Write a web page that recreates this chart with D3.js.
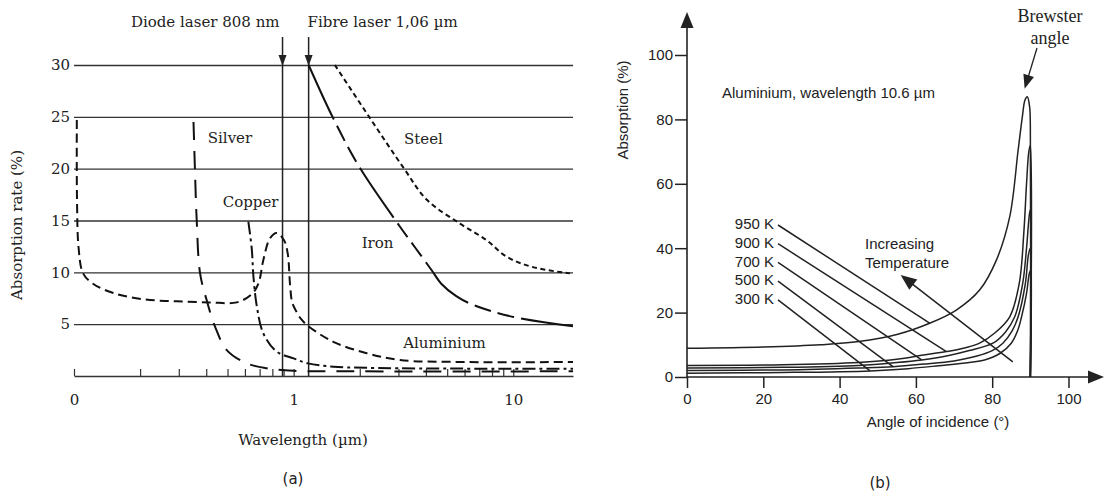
<!DOCTYPE html>
<html>
<head>
<meta charset="utf-8">
<script src="https://cdn.jsdelivr.net/npm/d3@7"></script>
<style>
body { margin: 0; background: #fff; }
svg { display: block; }
.serif { font-family: "DejaVu Serif", serif; font-size: 15px; fill: #222; }
.sans { font-family: "Liberation Sans", Arial, sans-serif; font-size: 15px; fill: #222; }
</style>
</head>
<body>
<div id="chart"></div>
<script>
// ---- panel (a) data: absorption rate (%) vs wavelength (um), log axis
var gridValues = [5, 10, 15, 20, 25, 30];
var wlTicks = [0.1, 0.2, 0.3, 0.4, 0.5, 0.6, 0.7, 0.8, 0.9, 1, 2, 3, 4, 5, 6, 7, 8, 9, 10];
var wlLabels = { 0.1: "0", 1: "1", 10: "10" };
var laserNames = ["Diode laser 808 nm", "Fibre laser 1,06 µm"];
var laserWl = [0.89, 1.17];   // where the lines sit in the picture

var metals = ["Aluminium", "Silver", "Copper", "Iron", "Steel"];
var aluminium = [[0.103, 24.7], [0.1032, 17], [0.105, 12.3], [0.11, 9.9], [0.122, 8.9], [0.151, 8.0],
    [0.207, 7.4], [0.294, 7.2], [0.417, 7.1], [0.551, 7.1], [0.645, 7.9], [0.691, 8.9], [0.728, 11.2],
    [0.781, 13.3], [0.838, 13.8], [0.904, 13.1], [0.94, 11.8], [0.963, 8.8], [0.985, 7.1], [1.03, 6.2],
    [1.08, 5.5], [1.16, 4.85], [1.515, 3.3], [2.15, 2.2], [3.05, 1.54], [6.13, 1.35], [18.7, 1.35]];
var silver = [[0.35, 24.5], [0.355, 20.2], [0.362, 15], [0.375, 9.9], [0.402, 7.3], [0.439, 4.75],
    [0.496, 2.5], [0.612, 1.22], [0.754, 0.74], [1.0, 0.5], [2, 0.45], [18.7, 0.45]];
var copper = [[0.622, 14.9], [0.645, 12.2], [0.656, 9.6], [0.68, 6.7], [0.728, 4.1], [0.838, 2.35],
    [1.0, 1.7], [1.16, 1.22], [1.52, 0.9], [3, 0.75], [18.7, 0.7]];
var iron = [[1.17, 30], [1.515, 24.85], [2.0, 20.1], [3.05, 14.4], [3.6, 12.3], [4.25, 10.2], [4.7, 8.9],
    [5.5, 7.7], [6.58, 6.85], [10, 5.7], [18.7, 4.8]];
var steel = [[1.54, 30], [2.23, 24.85], [3.16, 20.1], [4.04, 17.0], [5.72, 14.7], [7.56, 13.1],
    [9.33, 11.5], [12.3, 10.5], [18.1, 9.9]];

// ---- panel (b) data: aluminium, 10.6 um, absorption (%) vs angle of incidence
var angleTicks = [0, 20, 40, 60, 80, 100];
var absTicks = [0, 20, 40, 60, 80, 100];
var temps = ["950 K", "900 K", "700 K", "500 K", "300 K"];
var k950 = [[0, 8.9], [20, 9.3], [35, 10], [45, 11], [55, 13.2], [63.6, 16.7], [70.6, 20.8], [76.7, 27],
    [81.1, 36.3], [84.6, 49.8], [86.8, 70.5], [87.9, 80.8], [88.6, 86], [89.2, 87], [89.8, 84], [90, 78], [90, 0]];
var k900 = [[0, 3.6], [25, 3.8], [45, 4.5], [55, 5.5], [62, 6.8], [68, 7.9], [73, 9.1], [76.7, 10.5],
    [80.5, 13.5], [84.6, 18.7], [87.1, 29.1], [88.3, 45], [89, 60], [89.6, 70], [90, 72], [90, 0]];
var k700 = [[0, 2.8], [25, 3.0], [45, 3.6], [55, 4.5], [61.5, 5.3], [68, 6.5], [74, 8.2], [80.2, 10.5],
    [83.5, 14], [85.9, 18.7], [88, 29.1], [89, 40], [89.7, 50], [90, 52], [90, 0]];
var k500 = [[0, 2.0], [25, 2.2], [45, 2.8], [54, 3.2], [62, 4.0], [70, 5.0], [76, 6.5], [80, 8.2],
    [82.8, 10.5], [85.3, 14.5], [86.8, 18.7], [88.7, 29.1], [89.5, 38], [90, 40], [90, 0]];
var k300 = [[0, 1.2], [25, 1.4], [48, 1.9], [58, 2.6], [66, 3.5], [74, 4.5], [78, 5.3], [82, 7.3],
    [85, 10.5], [86.7, 14.5], [87.7, 18.7], [89, 26], [89.7, 32], [90, 33], [90, 0]];
var leaderAngles = [63.6, 68, 61.5, 54, 48];

var svg = d3.select("#chart").append("svg")
    .attr("width", 1105)
    .attr("height", 496);

function tri(g, x, y, ang, len, wid) {
    // filled arrow head, tip at x,y, pointing along ang (radians)
    var bx = x - len * Math.cos(ang), by = y - len * Math.sin(ang);
    var px = -Math.sin(ang) * wid / 2, py = Math.cos(ang) * wid / 2;
    g.append("path")
        .attr("d", `M${x},${y}L${bx + px},${by + py}L${bx - px},${by - py}Z`)
        .attr("fill", "#222");
}

// ================= panel (a)
var xL = d3.scaleLog().domain([0.1, 18.7]).range([74, 573]);
var yL = d3.scaleLinear().domain([0, 30]).range([376, 65]);
var ga = svg.append("g");

var gy = ga.append("g")
    .attr("transform", "translate(74,0)")
    .call(d3.axisLeft(yL).tickValues(gridValues).tickSize(-(573 - 74)).tickPadding(4));
gy.select(".domain").remove();
gy.selectAll("line").attr("stroke", "#333").attr("stroke-width", 1.4);
gy.selectAll("text").attr("class", "serif").attr("font-size", null).attr("font-family", null);

var gx = ga.append("g")
    .attr("transform", "translate(0,376)")
    .call(d3.axisBottom(xL).tickValues(wlTicks).tickSize(-7).tickSizeOuter(0).tickPadding(18)
        .tickFormat(d => wlLabels[d] || ""));
gx.select(".domain").attr("stroke", "#333").attr("stroke-width", 1.6);
gx.selectAll("line").attr("stroke", "#333").attr("stroke-width", 1.2);
gx.selectAll("text").attr("class", "serif").attr("font-size", null).attr("font-family", null);

// laser lines with arrows
laserWl.forEach(function(w, i) {
    ga.append("line")
        .attr("x1", xL(w)).attr("x2", xL(w))
        .attr("y1", 37).attr("y2", yL(0))
        .attr("stroke", "#222").attr("stroke-width", 1.5);
    tri(ga, xL(w), yL(30) + 1, Math.PI / 2, 11, 8);
    ga.append("text")
        .attr("class", "serif")
        .attr("x", i == 0 ? xL(w) - 3 : xL(w) - 1)
        .attr("y", 27)
        .attr("text-anchor", i == 0 ? "end" : "start")
        .text(laserNames[i]);
});

var lineL = d3.line()
    .x(d => xL(d[0]))
    .y(d => yL(d[1]))
    .curve(d3.curveCatmullRom.alpha(0.5));

var metalData = [aluminium, silver, copper, iron, steel];
var metalDash = ["9,5", "18,11", "13,4,3,4", "60,7,17,7,17,7", "5,3.5"];
metalData.forEach(function(s, i) {
    ga.append("path")
        .datum(s)
        .attr("d", lineL)
        .attr("fill", "none")
        .attr("stroke", "#111")
        .attr("stroke-width", 2)
        .attr("stroke-dasharray", metalDash[i]);
});

// metal names, anchored in data units
var metalLabelAt = [[4.86, 3.2], [0.513, 23.0], [0.637, 16.8], [2.41, 12.85], [3.9, 22.9]];
metals.forEach(function(m, i) {
    ga.append("text")
        .attr("class", "serif")
        .attr("x", xL(metalLabelAt[i][0]))
        .attr("y", yL(metalLabelAt[i][1]))
        .attr("dy", "0.35em")
        .attr("text-anchor", "middle")
        .text(m);
});

ga.append("text")
    .attr("class", "serif")
    .attr("transform", "translate(22,225) rotate(-90)")
    .attr("text-anchor", "middle")
    .text("Absorption rate (%)");
ga.append("text")
    .attr("class", "serif")
    .attr("x", 303).attr("y", 445)
    .attr("text-anchor", "middle")
    .text("Wavelength (µm)");
ga.append("text")
    .attr("x", 293).attr("y", 484)
    .attr("text-anchor", "middle")
    .attr("font-family", "DejaVu Sans")
    .attr("font-size", 15)
    .attr("fill", "#222")
    .text("(a)");

// ================= panel (b)
var xR = d3.scaleLinear().domain([0, 100]).range([687, 1068.5]);
var yR = d3.scaleLinear().domain([0, 100]).range([377, 55]);
var gb = svg.append("g");

var gry = gb.append("g")
    .attr("transform", `translate(${xR(0)},0)`)
    .call(d3.axisLeft(yR).tickValues(absTicks).tickSize(12).tickPadding(2));
var grx = gb.append("g")
    .attr("transform", `translate(0,${yR(0)})`)
    .call(d3.axisBottom(xR).tickValues(angleTicks).tickSize(11).tickPadding(5));
[gry, grx].forEach(function(g) {
    g.select(".domain").remove();
    g.selectAll("line").attr("stroke", "#222").attr("stroke-width", 1.5);
    g.selectAll("text").attr("class", "sans").attr("font-size", null).attr("font-family", null);
});

gb.append("line")
    .attr("x1", xR(0)).attr("x2", xR(0))
    .attr("y1", yR(0)).attr("y2", 24)
    .attr("stroke", "#222").attr("stroke-width", 1.6);
tri(gb, xR(0), 12, -Math.PI / 2, 16, 13);
gb.append("line")
    .attr("x1", xR(0)).attr("x2", 1090)
    .attr("y1", yR(0)).attr("y2", yR(0))
    .attr("stroke", "#222").attr("stroke-width", 1.6);
tri(gb, 1104, yR(0), 0, 16, 13);

var lineR = d3.line()
    .x(d => xR(d[0]))
    .y(d => yR(d[1]))
    .curve(d3.curveCatmullRom.alpha(0.5));

var tempData = [k950, k900, k700, k500, k300];
tempData.forEach(function(s) {
    gb.append("path")
        .datum(s)
        .attr("d", lineR)
        .attr("fill", "none")
        .attr("stroke", "#222")
        .attr("stroke-width", 1.5);
});

// temperature labels with leader lines to their curves
temps.forEach(function(t, i) {
    var ly = 224 + i * 18.7;
    gb.append("text")
        .attr("class", "sans")
        .attr("x", 774).attr("y", ly)
        .attr("dy", "0.35em")
        .attr("text-anchor", "end")
        .text(t);
    var s = tempData[i].filter(d => d[0] < 89);
    var onCurve = d3.scaleLinear().domain(s.map(d => d[0])).range(s.map(d => d[1]));
    var a = leaderAngles[i];
    gb.append("line")
        .attr("x1", 778).attr("y1", ly + 1)
        .attr("x2", xR(a)).attr("y2", yR(onCurve(a)))
        .attr("stroke", "#222").attr("stroke-width", 1.5);
});

gb.append("text")
    .attr("class", "sans")
    .attr("x", 722).attr("y", 98)
    .text("Aluminium, wavelength 10.6 µm");

gb.append("text").attr("class", "sans").attr("x", 865).attr("y", 249).text("Increasing");
gb.append("text").attr("class", "sans").attr("x", 865).attr("y", 268).text("Temperature");
var ax1 = xR(85.4), ay1 = yR(4.7), ax2 = xR(56), ay2 = yR(31.7);
var angI = Math.atan2(ay2 - ay1, ax2 - ax1);
gb.append("line")
    .attr("x1", ax1).attr("y1", ay1)
    .attr("x2", ax2 - 10 * Math.cos(angI)).attr("y2", ay2 - 10 * Math.sin(angI))
    .attr("stroke", "#222").attr("stroke-width", 1.5);
tri(gb, ax2, ay2, angI, 16, 13);

gb.append("text")
    .attr("x", 1050).attr("y", 22)
    .attr("text-anchor", "middle")
    .attr("font-family", "Liberation Serif").attr("font-size", 18).attr("fill", "#222")
    .text("Brewster");
gb.append("text")
    .attr("x", 1050).attr("y", 44)
    .attr("text-anchor", "middle")
    .attr("font-family", "Liberation Serif").attr("font-size", 18).attr("fill", "#222")
    .text("angle");
var bx1 = 1037, by1 = 48, bx2 = xR(88.5), by2 = yR(89.5);
var angB = Math.atan2(by2 - by1, bx2 - bx1);
gb.append("line")
    .attr("x1", bx1).attr("y1", by1)
    .attr("x2", bx2 - 10 * Math.cos(angB)).attr("y2", by2 - 10 * Math.sin(angB))
    .attr("stroke", "#222").attr("stroke-width", 1.3);
tri(gb, bx2, by2, angB, 14, 11);

gb.append("text")
    .attr("transform", "translate(628,110) rotate(-90)")
    .attr("class", "sans")
    .attr("text-anchor", "middle")
    .text("Absorption (%)");
gb.append("text")
    .attr("class", "sans")
    .attr("x", 938).attr("y", 427)
    .attr("text-anchor", "middle")
    .text("Angle of incidence (°)");
gb.append("text")
    .attr("x", 880).attr("y", 488)
    .attr("text-anchor", "middle")
    .attr("font-family", "DejaVu Sans")
    .attr("font-size", 15)
    .attr("fill", "#222")
    .text("(b)");
</script>
</body>
</html>
